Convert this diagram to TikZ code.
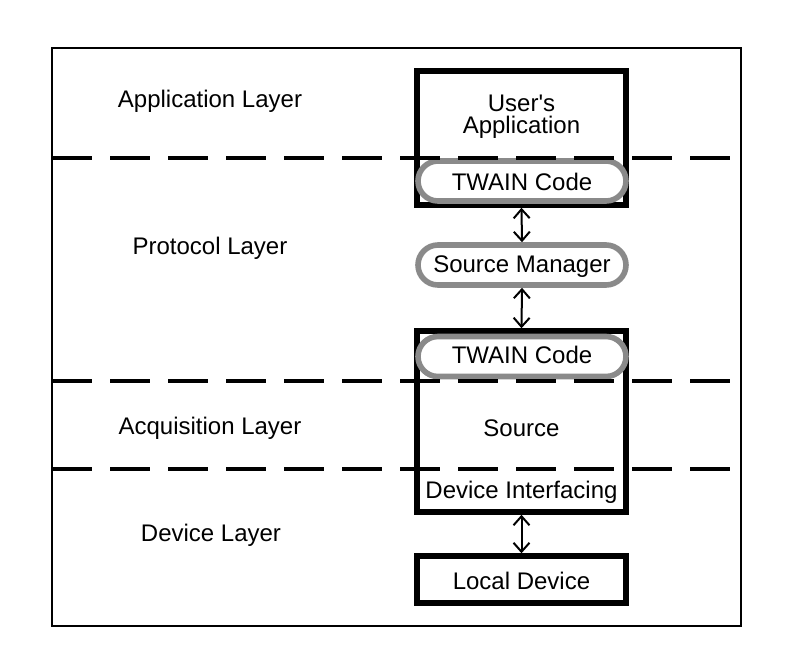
\documentclass[tikz,border=0pt]{standalone}
\usepackage{fontspec}
\setmainfont{Liberation Sans}[Ligatures=TeXOff]
\usetikzlibrary{arrows.meta}
\begin{document}
\begin{tikzpicture}[x=0.5pt,y=-0.5pt,
  txt/.style={font=\fontsize{12}{11}\selectfont, inner sep=0pt, text height=8.6pt, text depth=0pt},
  bbox/.style={draw, line width=2.75pt, minimum width=104.5pt, inner sep=0pt},
  pill/.style={draw=black!46, fill=white, line width=2.8pt, rounded corners=10pt,
    minimum width=104pt, minimum height=20pt, inner sep=0pt},
  layerline/.style={line width=2pt, dash pattern=on 20pt off 9pt},
  link/.style={line width=1pt, {Straight Barb[length=4.5pt,width=8pt]}-{Straight Barb[length=4.5pt,width=8pt]}}]
\useasboundingbox (0,0) rectangle (794,666);
\draw[line width=1.4pt] (52,48) rectangle (741,626);

% boxes
\node[bbox, minimum height=67pt] (app) at (521.5,138) {};
\node[bbox, minimum height=90.5pt] (src) at (521.5,421.5) {};
\node[bbox, minimum height=23.5pt] (dev) at (521.5,579.5) {};

% pills
\node[pill] (tw1) at (522,181) {};
\node[pill] (mgr) at (522,265) {};
\node[pill] (tw2) at (522,356.5) {};

% texts
\node[font=\fontsize{12}{11}\selectfont, inner sep=0pt, align=center] (apptxt) at (521.5,116.5) {User's\\Application};
\node[txt] (tw1t) at (522,182) {TWAIN Code};
\node[txt] (mgrt) at (522,263.5) {Source Manager};
\node[txt] (tw2t) at (522,355) {TWAIN Code};
\node[txt] (srct) at (521.5,428) {Source};
\node[txt] (difc) at (521.5,490) {Device Interfacing};
\node[txt] (devt) at (521.5,581) {Local Device};

\node[txt] (l1) at (210,98.5) {Application Layer};
\node[txt] (l2) at (210,246) {Protocol Layer};
\node[txt] (l3) at (210,425.5) {Acquisition Layer};
\node[txt] (l4) at (211,533) {Device Layer};

% layer separators
\draw[layerline] (52,158) -- (741,158);
\draw[layerline] (52,381) -- (741,381);
\draw[layerline] (52,469) -- (741,469);

% connectors
\draw[link] (app.south) -- (mgr.north);
\draw[link] (mgr.south) -- (src.north);
\draw[link] (src.south) -- (dev.north);
\end{tikzpicture}
\end{document}
